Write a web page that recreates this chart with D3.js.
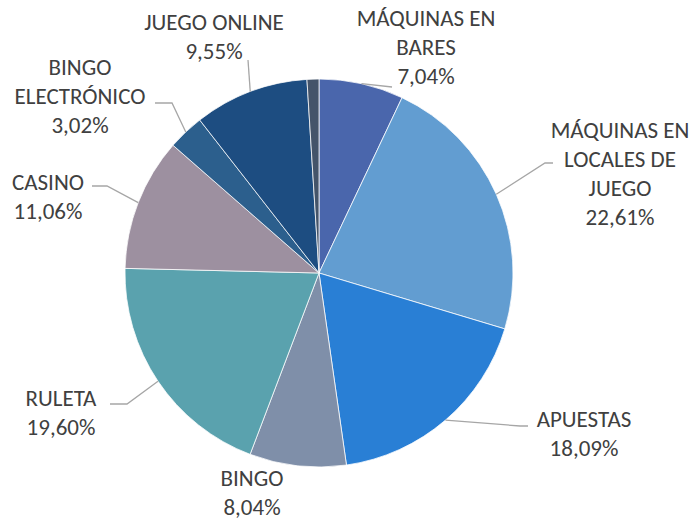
<!DOCTYPE html>
<html>
<head>
<meta charset="utf-8">
<script src="https://cdn.jsdelivr.net/npm/d3@7"></script>
<style>
  body { margin: 0; background: #fff; }
  svg text { font-family: Carlito, Lato, sans-serif; font-size: 23px; fill: #404040; }
</style>
</head>
<body>
<div id="chart"></div>
<script>
// ---------- DATA ----------
const categories = [
  "MÁQUINAS EN BARES",
  "MÁQUINAS EN LOCALES DE JUEGO",
  "APUESTAS",
  "BINGO",
  "RULETA",
  "CASINO",
  "BINGO ELECTRÓNICO",
  "JUEGO ONLINE",
  "OTROS",
];
const values = [7.04, 22.61, 18.09, 8.04, 19.6, 11.06, 3.02, 9.55, 0.99];
// label text, broken into lines as in the picture (null = no label)
const labelLines = [
  ["MÁQUINAS EN", "BARES"],
  ["MÁQUINAS EN", "LOCALES DE", "JUEGO"],
  ["APUESTAS"],
  ["BINGO"],
  ["RULETA"],
  ["CASINO"],
  ["BINGO", "ELECTRÓNICO"],
  ["JUEGO ONLINE"],
  null,
];
const colors = [
  "#4a66ac", "#629dd1", "#297fd5", "#7f8fa9", "#5aa2ae",
  "#9d90a0", "#2c5f8d", "#1d4d81", "#44546a",
];

// ---------- LAYOUT ----------
const size = { w: 693, h: 521 };
const center = { x: 319, y: 273 };
const radius = 194;
const lineH = 29;
// label anchor (center x, first baseline y) and leader path points after the arc point
const labelPos = [
  { x: 426, y: 26, leader: [[392, 87]] },
  { x: 620, y: 138, leader: [[545, 163], [553, 163]] },
  { x: 584, y: 427, leader: [[520, 426], [528, 426]] },
  { x: 252, y: 486, leader: [] },
  { x: 61, y: 406, leader: [[127, 404], [110, 404]] },
  { x: 48, y: 190, leader: [[107, 186], [92, 186]] },
  { x: 80, y: 75, leader: [[172, 103], [155, 103]] },
  { x: 214, y: 30, leader: [[248, 60]] },
  null,
];

const fmt = (v) => v.toFixed(2).replace(".", ",") + "%";

const data = categories.map((c, i) => ({ name: c, value: values[i], i: i }));

const svg = d3
  .select("#chart")
  .append("svg")
  .attr("width", size.w)
  .attr("height", size.h);

const pie = d3.pie().value((d) => d.value).sort(null);
const arc = d3.arc().innerRadius(0).outerRadius(radius);
const arcs = pie(data);

const g = svg.append("g").attr("transform", `translate(${center.x}, ${center.y})`);

g.selectAll("path.slice")
  .data(arcs)
  .enter()
  .append("path")
  .classed("slice", true)
  .attr("d", arc)
  .attr("fill", (d) => colors[d.data.i])
  .attr("stroke", "#fff")
  .attr("stroke-width", 0.75);

// leader lines start on the arc edge at the slice's mid angle
const lines = svg.append("g").classed("leaders", true);
arcs.forEach((d) => {
  const pos = labelPos[d.data.i];
  if (!pos || pos.leader.length === 0) return;
  const mid = (d.startAngle + d.endAngle) / 2;
  const start = [center.x + radius * Math.sin(mid), center.y - radius * Math.cos(mid)];
  lines
    .append("path")
    .attr("d", d3.line()([start, ...pos.leader]))
    .attr("fill", "none")
    .attr("stroke", "#a6a6a6")
    .attr("stroke-width", 1.3);
});

const labels = svg.append("g").classed("labels", true);
arcs.forEach((d) => {
  const i = d.data.i;
  const pos = labelPos[i];
  if (!pos || !labelLines[i]) return;
  const txt = labels
    .append("text")
    .attr("text-anchor", "middle")
    .attr("x", pos.x)
    .attr("y", pos.y);
  labelLines[i].concat([fmt(d.data.value)]).forEach((l, k) => {
    txt
      .append("tspan")
      .attr("x", pos.x)
      .attr("dy", k === 0 ? 0 : lineH)
      .text(l);
  });
});
</script>
</body>
</html>
